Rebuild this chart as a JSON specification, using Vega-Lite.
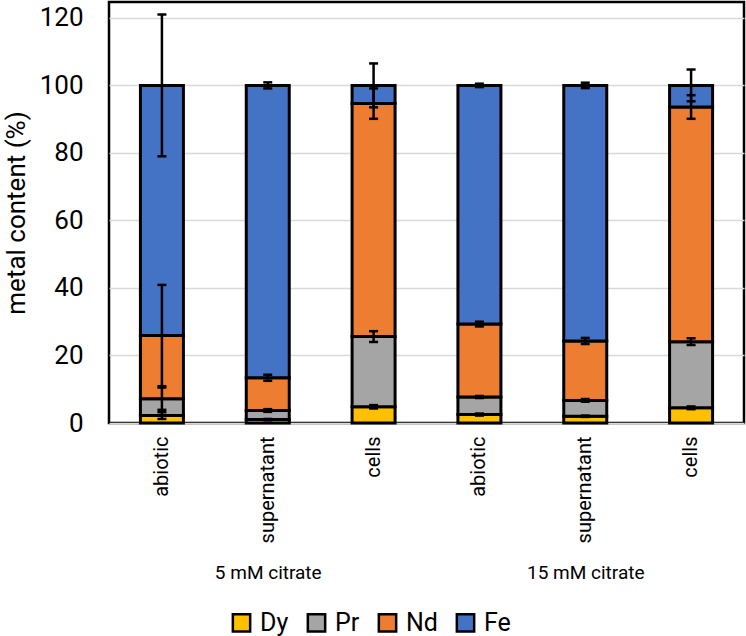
{
  "$schema": "https://vega.github.io/schema/vega-lite/v6.json",
  "autosize": {"type": "none"},
  "width": 635,
  "height": 421,
  "padding": {"left": 109, "top": 2, "right": 2, "bottom": 213},
  "background": "white",
  "config": {
    "font": "Roboto",
    "view": {"stroke": "black", "strokeWidth": 2.5},
    "axis": {"labelFont": "Roboto", "titleFont": "Roboto", "labelColor": "black", "titleColor": "black"}
  },
  "data": {
    "values": [
      {"group": "5 mM citrate", "sample": "abiotic", "metal": "Dy", "value": 2.2, "err": 1.0},
      {"group": "5 mM citrate", "sample": "abiotic", "metal": "Pr", "value": 5.0, "err": 3.3},
      {"group": "5 mM citrate", "sample": "abiotic", "metal": "Nd", "value": 18.7, "err": 15.0},
      {"group": "5 mM citrate", "sample": "abiotic", "metal": "Fe", "value": 74.1, "err": 21.0},
      {"group": "5 mM citrate", "sample": "supernatant", "metal": "Dy", "value": 1.0, "err": 0.2},
      {"group": "5 mM citrate", "sample": "supernatant", "metal": "Pr", "value": 2.7, "err": 0.4},
      {"group": "5 mM citrate", "sample": "supernatant", "metal": "Nd", "value": 9.7, "err": 0.9},
      {"group": "5 mM citrate", "sample": "supernatant", "metal": "Fe", "value": 86.6, "err": 0.9},
      {"group": "5 mM citrate", "sample": "cells", "metal": "Dy", "value": 4.8, "err": 0.5},
      {"group": "5 mM citrate", "sample": "cells", "metal": "Pr", "value": 20.8, "err": 1.6},
      {"group": "5 mM citrate", "sample": "cells", "metal": "Nd", "value": 69.0, "err": 4.5},
      {"group": "5 mM citrate", "sample": "cells", "metal": "Fe", "value": 5.4, "err": 6.5},
      {"group": "15 mM citrate", "sample": "abiotic", "metal": "Dy", "value": 2.5, "err": 0.3},
      {"group": "15 mM citrate", "sample": "abiotic", "metal": "Pr", "value": 5.2, "err": 0.3},
      {"group": "15 mM citrate", "sample": "abiotic", "metal": "Nd", "value": 21.6, "err": 0.7},
      {"group": "15 mM citrate", "sample": "abiotic", "metal": "Fe", "value": 70.7, "err": 0.5},
      {"group": "15 mM citrate", "sample": "supernatant", "metal": "Dy", "value": 2.0, "err": 0.2},
      {"group": "15 mM citrate", "sample": "supernatant", "metal": "Pr", "value": 4.7, "err": 0.4},
      {"group": "15 mM citrate", "sample": "supernatant", "metal": "Nd", "value": 17.6, "err": 0.9},
      {"group": "15 mM citrate", "sample": "supernatant", "metal": "Fe", "value": 75.7, "err": 0.8},
      {"group": "15 mM citrate", "sample": "cells", "metal": "Dy", "value": 4.5, "err": 0.4},
      {"group": "15 mM citrate", "sample": "cells", "metal": "Pr", "value": 19.6, "err": 1.0},
      {"group": "15 mM citrate", "sample": "cells", "metal": "Nd", "value": 69.5, "err": 3.5},
      {"group": "15 mM citrate", "sample": "cells", "metal": "Fe", "value": 6.4, "err": 4.7}
    ]
  },
  "transform": [
    {"calculate": "datum.group + '|' + datum.sample", "as": "bar"},
    {"calculate": "indexof(['Dy','Pr','Nd','Fe'], datum.metal)", "as": "rank"},
    {"stack": "value", "groupby": ["bar"], "sort": [{"field": "rank", "order": "ascending"}], "as": ["y0", "y1"]},
    {"calculate": "datum.y1 - datum.err", "as": "lo"},
    {"calculate": "datum.y1 + datum.err", "as": "hi"}
  ],
  "resolve": {"scale": {"x": "independent"}, "axis": {"x": "independent"}},
  "layer": [
    {
      "layer": [
        {
          "mark": {"type": "bar", "size": 43, "stroke": "black", "strokeWidth": 3},
          "encoding": {
            "x": {
              "field": "bar", "type": "nominal",
              "scale": {"domain": ["5 mM citrate|abiotic", "5 mM citrate|supernatant", "5 mM citrate|cells", "15 mM citrate|abiotic", "15 mM citrate|supernatant", "15 mM citrate|cells"]},
              "axis": {
                "title": null, "labelAngle": -90, "labelFontSize": 20, "labelPadding": 13,
                "ticks": false, "domain": false, "grid": false,
                "labelExpr": "split(datum.label, '|')[1]"
              }
            },
            "y": {
              "field": "y0", "type": "quantitative",
              "scale": {"domain": [0, 124.7], "nice": false},
              "axis": {
                "title": "metal content (%)", "titleFontSize": 26, "titleFontWeight": "normal", "titlePadding": 10,
                "values": [0, 20, 40, 60, 80, 100, 120], "labelFontSize": 26, "labelPadding": 26,
                "ticks": false, "domain": false, "gridColor": "#d9d9d9", "gridWidth": 1.5
              }
            },
            "y2": {"field": "y1"},
            "color": {
              "field": "metal", "type": "nominal",
              "scale": {"domain": ["Dy", "Pr", "Nd", "Fe"], "range": ["#FFC000", "#A5A5A5", "#ED7D31", "#4472C4"]},
              "legend": {
                "title": null, "orient": "none", "direction": "horizontal", "legendX": 120, "legendY": 608,
                "symbolType": "square", "symbolSize": 300, "symbolStrokeColor": "black", "symbolStrokeWidth": 2.5,
                "symbolOpacity": 1, "labelFontSize": 25, "labelColor": "black", "columnPadding": 13, "labelOffset": 6
              }
            }
          }
        },
        {
          "mark": {"type": "rule", "strokeWidth": 2.5, "color": "black"},
          "encoding": {
            "x": {"field": "bar", "type": "nominal"},
            "y": {"field": "lo", "type": "quantitative"},
            "y2": {"field": "hi"}
          }
        },
        {
          "mark": {"type": "tick", "orient": "horizontal", "size": 9, "thickness": 2.5, "color": "black", "opacity": 1},
          "encoding": {
            "x": {"field": "bar", "type": "nominal"},
            "y": {"field": "lo", "type": "quantitative"}
          }
        },
        {
          "mark": {"type": "tick", "orient": "horizontal", "size": 9, "thickness": 2.5, "color": "black", "opacity": 1},
          "encoding": {
            "x": {"field": "bar", "type": "nominal"},
            "y": {"field": "hi", "type": "quantitative"}
          }
        }
      ]
    },
    {
      "mark": {"type": "text", "text": "", "opacity": 0},
      "encoding": {
        "x": {
          "field": "group", "type": "nominal",
          "scale": {"domain": ["5 mM citrate", "15 mM citrate"]},
          "axis": {
            "orient": "bottom", "title": null, "labelAngle": 0, "labelFontSize": 19, "labelPadding": 140,
            "ticks": false, "domain": false, "grid": false
          }
        }
      }
    }
  ]
}
